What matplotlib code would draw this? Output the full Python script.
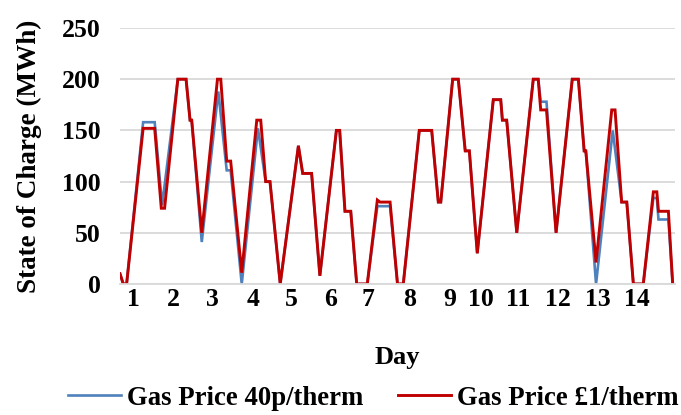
import matplotlib
matplotlib.use("Agg")
import matplotlib.pyplot as plt

# ---- data (hour of the 14-day period, state of charge in MWh) ----
days = list(range(1, 15))

red_hours = [0, 2, 4, 14, 21, 25, 27, 35, 40, 42.4, 43.4, 49.5, 59, 61, 64.6, 67,
             73.7, 82.8, 85.2, 88.2, 90.8, 97, 108, 110.6, 116, 121, 131, 133,
             136.2, 139.7, 143.3, 149.7, 155.8, 157.4, 163.5, 168, 171.5, 181.2,
             188.7, 192.7, 194.2, 201.4, 204.8, 209, 211.5, 216.3, 226, 230.5,
             231.5, 234.1, 240.2, 250.2, 253.2, 254.7, 258.2, 264, 273.8, 277.5,
             281, 282, 288.2, 297.7, 299.7, 303.7, 306.8, 310.8, 316.8, 322.9,
             325, 326, 332, 334.6]
red_soc = [10, 0, 0, 152, 152, 74, 74, 200, 200, 160, 160, 50, 200, 200, 120, 120,
           11, 160, 160, 100, 100, 0, 135, 108, 108, 8, 150, 150,
           71, 71, 0, 0, 82, 80, 80, 0, 0, 150,
           150, 80, 80, 200, 200, 130, 130, 30, 180, 180,
           160, 160, 50, 200, 200, 170, 170, 50, 200, 200,
           130, 130, 21, 170, 170, 80, 80, 0, 0, 90,
           90, 71, 71, 0]

blue_hours = [0, 2, 4, 14, 21, 25.5, 35, 40, 42.4, 43.4, 49.5, 59.5, 64.6, 67,
              73.7, 83.5, 88.2, 90.8, 97, 108, 110.6, 116, 121, 131, 133,
              136.2, 139.7, 143.3, 149.7, 155.8, 163.5, 168, 171.5, 181.2,
              188.7, 192.7, 194.2, 201.4, 204.8, 209, 211.5, 216.3, 226, 230.5,
              231.5, 234.1, 240.2, 250.2, 253.2, 254.7, 258.2, 264, 273.8, 277.5,
              281, 282, 288.2, 298.3, 303.7, 306.8, 310.8, 316.8, 322.9,
              325, 326, 332, 334.6]
blue_soc = [10, 0, 0, 158, 158, 77, 200, 200, 160, 160, 41, 188, 111, 111,
            0, 152, 100, 100, 0, 135, 108, 108, 8, 150, 150,
            71, 71, 0, 0, 76, 76, 0, 0, 150,
            150, 80, 80, 200, 200, 130, 130, 30, 180, 180,
            160, 160, 50, 200, 200, 178, 178, 50, 200, 200,
            130, 130, 0, 150, 80, 80, 0, 0, 84,
            84, 63, 63, 0]

y_ticks = [0, 50, 100, 150, 200, 250]
series_labels = ["Gas Price 40p/therm", "Gas Price \u00a31/therm"]

# ---- figure ----
plt.rcParams['font.family'] = ['Liberation Serif', 'DejaVu Serif']
fig = plt.figure(figsize=(6.81, 4.15), dpi=100)
ax = fig.add_axes([120/681, 1-284/415, 555/681, 256/415])

ax.plot(blue_hours, blue_soc, color='#4F81BD', lw=1.9, label=series_labels[0],
        solid_joinstyle='miter')
ax.plot(red_hours, red_soc, color='#C00000', lw=2.1, label=series_labels[1],
        solid_joinstyle='miter')

ax.set_xlim(0, 336)
ax.set_ylim(0, 250)
ax.set_yticks(y_ticks)
# label positions (hours) as placed under the axis in the reference
tick_pos = [8.1, 32.3, 56.2, 80.4, 104.0, 127.2, 150.4, 175.6, 199.8, 218.4,
            241.2, 265.4, 289.6, 312.8]
ax.set_xticks(tick_pos)
ax.set_xticklabels([str(d) for d in days])

ax.grid(axis='y', color='#d9d9d9', lw=1.3)
ax.set_axisbelow(True)
for s in ['top', 'right', 'left']:
    ax.spines[s].set_visible(False)
ax.spines['bottom'].set_color('#d9d9d9')
ax.spines['bottom'].set_linewidth(1.3)

ax.tick_params(axis='both', length=0, labelsize=18.5)
ax.tick_params(axis='y', pad=14)
ax.tick_params(axis='x', pad=3)
for lab in ax.get_xticklabels() + ax.get_yticklabels():
    lab.set_fontweight('bold')

ax.set_xlabel('Day', fontsize=19, fontweight='bold', labelpad=25)
ax.set_ylabel('State of Charge (MWh)', fontsize=19.5, fontweight='bold', labelpad=14)

leg = fig.legend(loc='center', bbox_to_anchor=(373/681, 1-398/415), ncol=2, frameon=False,
                 prop={'size': 19.3, 'weight': 'bold'}, handlelength=2.0,
                 columnspacing=1.3, handletextpad=0.2)

fig.savefig('out.png', dpi=100)
